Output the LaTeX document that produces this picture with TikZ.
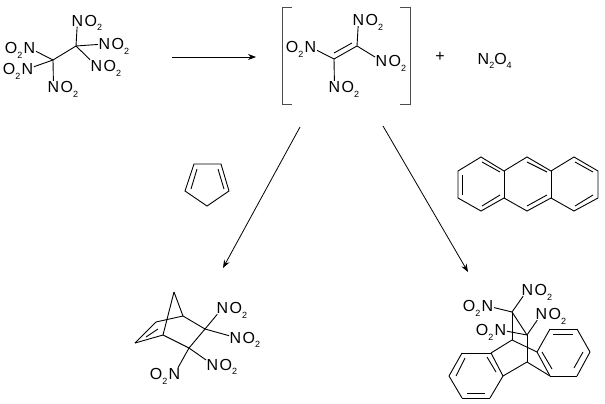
\documentclass[tikz,border=0pt]{standalone}
\usepackage{fontspec}
\setmainfont{Liberation Sans}
\usetikzlibrary{arrows.meta}

\tikzset{
  grp/.style={inner sep=0.5pt, font=\fontsize{16}{16}\selectfont},
  bond/.style={line width=0.9pt, color=black},
  rxn/.style={line width=0.8pt, -{Stealth[length=8pt,width=6pt]}},
  brk/.style={line width=1pt, color=black!70}
}
\newcommand*{\subn}[1]{\raisebox{-4.5pt}{\fontsize{9}{9}\selectfont #1}}
\newcommand*{\NOtwo}[2]{%
   \node[grp] (#1) at (#2) {N};
   \node[grp, anchor=base west] (#1o) at (#1.base east) {O\subn{2}};}
\newcommand*{\OtwoN}[2]{%
   \node[grp] (#1) at (#2) {N};
   \node[grp, anchor=base east] (#1o) at (#1.base west) {O\subn{2}};}

\begin{document}
\begin{tikzpicture}[x=1pt, y=-1pt]
  \useasboundingbox (0,0) rectangle (605,404);

  % hexanitroethane
  \coordinate (ca) at (53,60);
  \coordinate (cb) at (76,46);
  \NOtwo{ha}{77.5,20.5}
  \NOtwo{hb}{104.5,44}
  \NOtwo{hc}{96.5,66}
  \OtwoN{hd}{29.5,48}
  \OtwoN{he}{27.5,69}
  \NOtwo{hf}{53.5,87}
  \foreach \a/\b in {ca/cb,cb/ha,cb/hb,cb/hc,ca/hd,ca/he,ca/hf}{
    \draw[bond] (\a) -- (\b);
  }

  % tetranitroethylene in brackets
  \coordinate (ea) at (357,46);
  \coordinate (eb) at (334,59);
  \NOtwo{ta}{358.5,20}
  \NOtwo{tb}{381.5,61}
  \OtwoN{tc}{310.5,47}
  \NOtwo{td}{334.5,87}
  \foreach \a/\b in {ea/eb,ea/ta,ea/tb,eb/tc,eb/td}{
    \draw[bond] (\a) -- (\b);
  }
  \draw[bond] (334,53) -- (352,43);
  \draw[brk] (292,8) -- (282,8) -- (282,104) -- (292,104);
  \draw[brk] (400,8) -- (410,8) -- (410,104) -- (400,104);
  \node[grp] (plus) at (440,57) {+};
  \node[grp, anchor=base west] (dimer) at (477,64) {N\subn{2}O\subn{4}};

  % reaction arrows
  \coordinate (ra) at (172,57);
  \coordinate (rb) at (256,57);
  \coordinate (rc) at (300,127);
  \coordinate (rd) at (223,268);
  \coordinate (re) at (383,126);
  \coordinate (rf) at (468,272);
  \foreach \a/\b in {ra/rb,rc/rd,re/rf}{
    \draw[rxn] (\a) -- (\b);
  }

  % cyclopentadiene
  \draw[bond] (194,164) -- (221,164) -- (229,191) -- (207,206) -- (185,191) -- cycle;
  \draw[bond] (197,169) -- (191,189);
  \draw[bond] (218,169) -- (224,189);

  % anthracene
  \draw[bond] (481,157) -- (504,171) -- (527,157) -- (551,171) -- (574,157) -- (598,171)
    -- (598,198) -- (574,211) -- (551,198) -- (527,211) -- (504,198) -- (481,211)
    -- (458,198) -- (458,171) -- cycle;
  \draw[bond] (504,171) -- (504,198);
  \draw[bond] (551,171) -- (551,198);
  \foreach \a/\b/\c/\d in {462/175/462/195,482/162/500/172,482/206/500/195,
      527/162/547/172,527/206/547/195,575/162/593/172,575/206/593/195}{
    \draw[bond] (\a,\b) -- (\c,\d);
  }

  % norbornene adduct
  \coordinate (na) at (174,292);
  \coordinate (nb) at (183,316);
  \coordinate (nc) at (205,329);
  \coordinate (nd) at (189,348);
  \coordinate (ne) at (163,335);
  \coordinate (nf) at (135,343);
  \coordinate (ng) at (156,322);
  \NOtwo{pa}{222.5,308}
  \NOtwo{pb}{235.5,337.5}
  \NOtwo{pc}{212.5,364.5}
  \OtwoN{pd}{174.5,374}
  \foreach \a/\b in {na/nb,na/ne,nb/nc,nc/nd,nd/ne,ne/nf,nf/ng,ng/nb,nc/pa,nc/pb,nd/pc,nd/pd}{
    \draw[bond] (\a) -- (\b);
  }
  \draw[bond] (146,337) -- (158,329);

  % anthracene adduct
  \coordinate (xa) at (512,312);
  \coordinate (xb) at (527,335);
  \coordinate (xc) at (512,340);
  \coordinate (xd) at (527,362);
  \coordinate (la) at (491,353);
  \coordinate (lb) at (503,376);
  \coordinate (lc) at (490,398);
  \coordinate (ld) at (462,398);
  \coordinate (le) at (449,376);
  \coordinate (lf) at (462,353);
  \coordinate (ka) at (537,352);
  \coordinate (kb) at (550,376);
  \coordinate (kc) at (577,376);
  \coordinate (kd) at (590,352);
  \coordinate (ke) at (577,329);
  \coordinate (kf) at (550,329);
  \NOtwo{qa}{527.5,290}
  \OtwoN{qb}{487.5,306}
  \NOtwo{qc}{541.5,314}
  \OtwoN{qd}{500.5,330}
  \foreach \a/\b in {xa/xb,xa/xc,xb/xd,xc/la,xc/ka,xd/lb,xd/kb,xa/qa,xa/qb,xb/qc,xb/qd,
      la/lb,lb/lc,lc/ld,ld/le,le/lf,lf/la,ka/kb,kb/kc,kc/kd,kd/ke,ke/kf,kf/ka}{
    \draw[bond] (\a) -- (\b);
  }
  \foreach \a/\b/\c/\d in {487/357/496/372,467/393/485/393,456/376/465/358,
      542/352/552/369,553/334/573/334,583/352/574/368}{
    \draw[bond] (\a,\b) -- (\c,\d);
  }
\end{tikzpicture}
\end{document}
